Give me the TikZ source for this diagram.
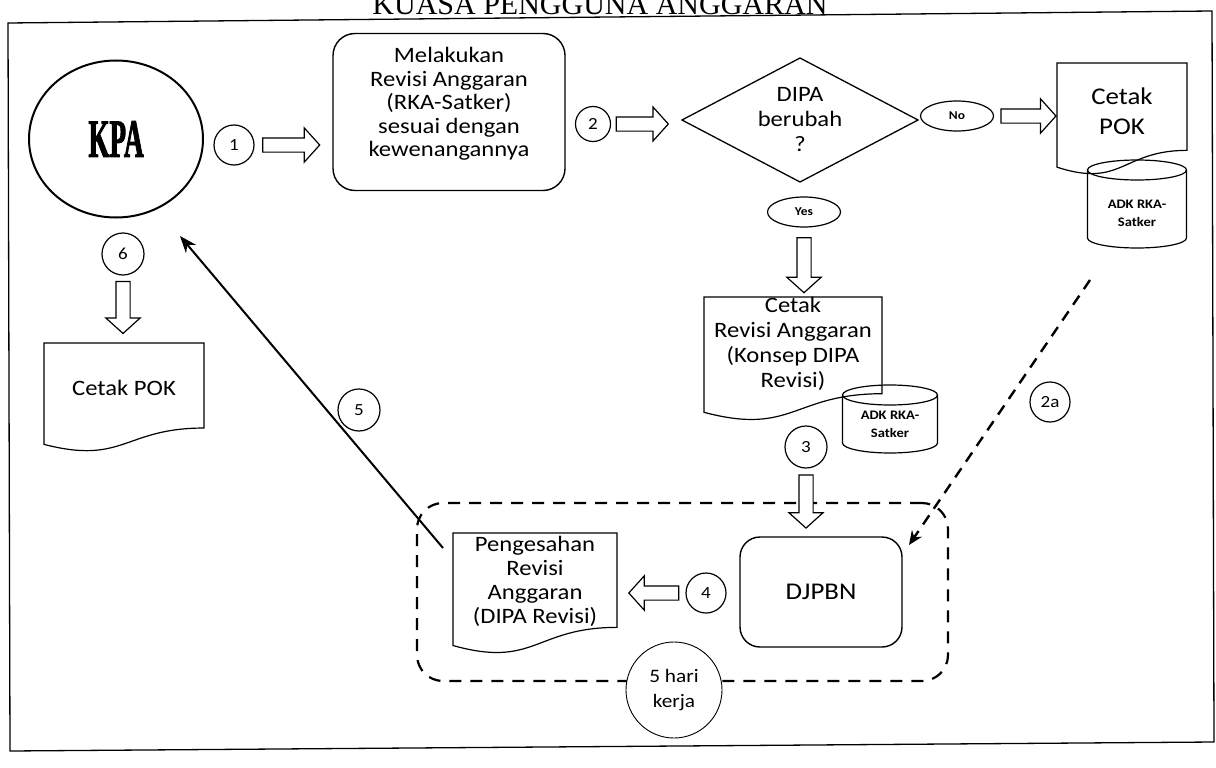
\documentclass[tikz,border=0pt]{standalone}
\usepackage{fontspec}
\setmainfont{Carlito}[FakeStretch=1.12]
\newfontfamily\titlefam{Liberation Serif}
\newfontfamily\kpafam{Liberation Serif}[FakeStretch=0.5, FakeBold=1.6]
\usetikzlibrary{shapes.geometric,shapes.arrows,arrows.meta,calc}

% document symbol: flat top, wavy bottom
\newcommand\docpath[1]{%
  \draw[docline] (#1.north west) -- (#1.north east) -- ($(#1.north east)!0.78!(#1.south east)$)
    .. controls ($(#1.north)!0.78!(#1.south)$) and ($(#1.north)!1.12!(#1.south)$) ..
    ($(#1.north west)!0.93!(#1.south west)$) -- cycle;}

% data store drum: name, centre x, top ellipse y, width, body height
\newcommand\adk[5]{%
  \coordinate (#1) at (#2,#3);
  \draw[cylline] ($(#1)+(-#4/2,0)$) -- ++(0,#5)
     arc[start angle=180, end angle=0, x radius=#4/2, y radius=10]
     -- ++(0,-#5)
     arc[start angle=0, end angle=-180, x radius=#4/2, y radius=10] -- cycle;
  \draw[cylline, fill=none] ($(#1)+(-#4/2,0)$)
     arc[start angle=180, end angle=0, x radius=#4/2, y radius=10];}

\tikzset{
  every node/.style={inner sep=0pt, outer sep=0pt},
  txt/.style={align=center, font=\fontsize{22}{23.5}\selectfont},
  numc/.style={circle, draw, line width=1.2pt, font=\fontsize{17}{17}\selectfont},
  blk/.style={single arrow, draw, line width=1.2pt, fill=white, inner xsep=0pt,
    inner ysep=6.5pt, single arrow head extend=10pt, single arrow tip angle=96,
    sloped, allow upside down},
  rbox/.style={rectangle, draw, line width=1.4pt, rounded corners=22pt},
  docline/.style={line width=1.2pt},
  cylline/.style={line width=1.2pt, fill=white},
  tag/.style={ellipse, draw, line width=1.2pt, font=\bfseries\fontsize{12}{12}\selectfont},
  cyltxt/.style={align=center, font=\bfseries\fontsize{13}{18}\selectfont},
  grpline/.style={draw, line width=2.2pt, dash pattern=on 12pt off 9pt, rounded corners=26pt},
}

\begin{document}
\begin{tikzpicture}[x=1pt,y=-1pt]
\useasboundingbox (0,0) rectangle (1216,768);

% heading and outer frame
\node[anchor=base, font=\titlefam\fontsize{30}{30}\selectfont] (title) at (600,15) {KUASA PENGGUNA ANGGARAN};
\draw[line width=1.3pt] (8,23) -- (1212,11) -- (1214,742) -- (10,751) -- cycle;

% KPA and first step
\node[ellipse, draw, line width=2pt, minimum width=174pt, minimum height=157pt,
      font=\kpafam\bfseries\fontsize{54}{54}\selectfont] (kpa) at (116,139) {KPA};
\node[numc, minimum size=40pt] (c1) at (234,145) {1};
\node[rbox, minimum width=232pt, minimum height=157pt] (proc) at (449,112) {};
\node[txt] (proct) at (449,104) {Melakukan\\Revisi Anggaran\\(RKA-Satker)\\sesuai dengan\\kewenangannya};
\path (c1.east) -- (c1.east -| proc.west) node[blk, pos=0.43, minimum height=57pt] (a1) {};

% decision
\node[numc, minimum size=35pt] (c2) at (593,124) {2};
\node[diamond, draw, line width=1.3pt, minimum width=236pt, minimum height=124pt] (dia) at (800,120) {};
\node[txt, font=\fontsize{22}{25}\selectfont] (diat) at (800,120) {DIPA\\berubah\\?};
\path (c2.east) -- (c2.east -| dia.west) node[blk, pos=0.4, minimum height=52pt] (a2) {};

% "No" branch
\node[tag, minimum width=73pt, minimum height=30pt] (no) at (957,116) {No};
\adk{cylR}{1137}{170}{99}{68}
\node[minimum width=130pt, minimum height=112pt] (pokR) at (1122,119) {};
\docpath{pokR}
\node[txt, font=\fontsize{24}{30}\selectfont] (pokRt) at (1122,111) {Cetak\\POK};
\node[cyltxt] (cylRt) at (1137,213) {ADK RKA-\\Satker};
\path (no.east) -- (no.east -| pokR.west) node[blk, midway, minimum height=55pt] (a3) {};

% "Yes" branch
\node[tag, minimum width=73pt, minimum height=30pt] (yes) at (804,212) {Yes};
\adk{cylB}{890}{395}{95}{48}
\node[minimum width=178pt, minimum height=124pt] (rev) at (793,359) {};
\docpath{rev}
\node[txt, font=\fontsize{22}{25}\selectfont] (revt) at (793,344) {Cetak\\Revisi Anggaran\\(Konsep DIPA\\Revisi)};
\node[cyltxt] (cylBt) at (890,424) {ADK RKA-\\Satker};
\path (yes.south) -- (yes.south |- rev.north) node[blk, midway, minimum height=55pt] (a4) {};

% DJPBN group
\node[grpline, minimum width=531pt, minimum height=178pt] (grp) at (682.5,592) {};
\node[rbox, rounded corners=20pt, minimum width=162pt, minimum height=110pt,
      font=\fontsize{24}{24}\selectfont] (djpbn) at (821,592) {DJPBN};
\node[numc, minimum size=42pt] (c3) at (806,447) {3};
\path (c3.south) -- (c3.south |- djpbn.north) node[blk, pos=0.44, minimum height=53pt] (a5) {};

\node[minimum width=164pt, minimum height=121pt] (peng) at (535,593.5) {};
\docpath{peng}
\node[txt, font=\fontsize{22}{24}\selectfont] (pengt) at (535,581) {Pengesahan\\Revisi\\Anggaran\\(DIPA Revisi)};
\node[numc, minimum size=40pt] (c4) at (706,593) {4};
\path (c4.west) -- (c4.west -| peng.east) node[blk, pos=0.42, minimum height=50pt] (a6) {};

\node[circle, draw, fill=white, line width=0.9pt, minimum size=96pt, align=center,
      font=\fontsize{19}{25}\selectfont] (hari) at (674,690) {5 hari\\kerja};

% return to KPA
\coordinate (p5) at (443,548);
\coordinate (k5) at (180,236);
\draw[line width=2pt, -{Stealth[length=17pt, width=13pt]}] (p5) -- (k5);
\node[numc, minimum size=42pt] (c5) at (359,410) {5};

% print POK
\node[numc, minimum size=42pt] (c6) at (123,254) {6};
\node[minimum width=160pt, minimum height=109pt] (pokL) at (124,397.5) {};
\docpath{pokL}
\node[txt] (pokLt) at (124,388) {Cetak POK};
\path (c6.south) -- (c6.south |- pokL.north) node[blk, pos=0.43, minimum height=52pt] (a7) {};

% direct route 2a
\coordinate (s2a) at (1090,280);
\draw[line width=2.4pt, dash pattern=on 11pt off 8pt, -{Stealth[length=14pt, width=12pt]}]
  (s2a) -- ([xshift=7pt, yshift=-8pt]djpbn.north east);
\node[numc, minimum size=40pt] (c2a) at (1050,402) {2a};

\end{tikzpicture}
\end{document}
